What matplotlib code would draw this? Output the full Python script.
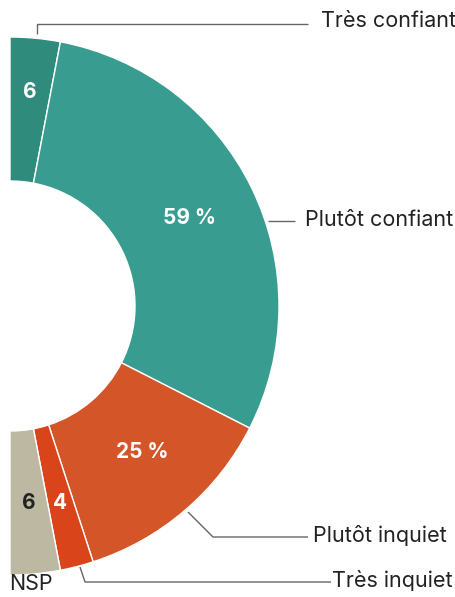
import numpy as np
import matplotlib
matplotlib.use('Agg')
import matplotlib.pyplot as plt

# data
categories = ['Très confiant', 'Plutôt confiant', 'Plutôt inquiet', 'Très inquiet', 'NSP']
values = [6, 59, 25, 4, 6]
value_labels = ['6', '59 %', '25 %', '4', '6']
colors = ['#2f8c7c', '#389d90', '#d45528', '#d9441b', '#bdb8a1']
value_colors = ['white', 'white', 'white', 'white', '#222222']

plt.rcParams['font.family'] = ['Inter', 'DejaVu Sans']

W, H = 456, 597
fig = plt.figure(figsize=(W / 100, H / 100), dpi=100)
ax = fig.add_axes([0, 0, 1, 1])

cx, cy = 10, 306
r_out, r_in = 269, 125

# half donut: an invisible filler takes the left half
# (y axis is inverted below, so -90 is the visual top and ccw is visual cw)
wedges, _ = ax.pie(values + [sum(values)], radius=r_out, center=(cx, cy),
                   startangle=-90, counterclock=True, colors=colors + ['none'],
                   wedgeprops=dict(width=r_out - r_in, edgecolor='white', linewidth=1.0))
wedges[-1].set_edgecolor('none')

ax.set_xlim(0, W)
ax.set_ylim(H, 0)
ax.set_aspect('equal')
ax.axis('off')

# value labels near slice middles
label_r = [215, 200, 197, 203, 198]
label_shift = [0, 0, 1.5, 0, 0]  # degrees
start = 90.0
for v, lab, col, r, sh in zip(values, value_labels, value_colors, label_r, label_shift):
    span = v / sum(values) * 180.0
    mid = np.deg2rad(start - span / 2 + sh)
    x = cx + r * np.cos(mid)
    y = cy - r * np.sin(mid)
    ax.text(x, y, lab, color=col, fontsize=15, fontweight='bold',
            ha='center', va='center')
    start -= span

# leader lines and category labels
line_kw = dict(color='#666666', lw=1.0, solid_capstyle='butt')
txt_kw = dict(fontsize=15.5, color='#222222', ha='left', va='center')
ax.plot([37, 37, 308], [34, 24, 24], **line_kw)
ax.text(321, 21, categories[0], **txt_kw)

ax.plot([268, 295], [221, 221], **line_kw)
ax.text(305, 220, categories[1], **txt_kw)

ax.plot([188, 213, 308], [512, 537, 537], **line_kw)
ax.text(313, 536, categories[2], **txt_kw)

ax.plot([80, 85, 331], [567, 582, 582], **line_kw)
ax.text(332, 581, categories[3], **txt_kw)

ax.text(9, 584, categories[4], **txt_kw)

fig.savefig('out.png', dpi=100, facecolor='white')
